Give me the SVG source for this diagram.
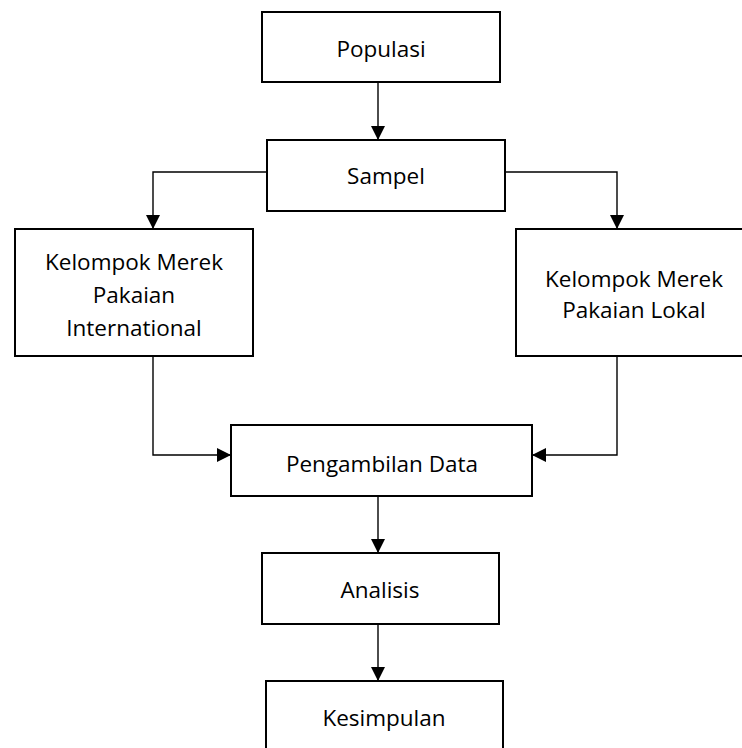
<svg xmlns="http://www.w3.org/2000/svg" width="742" height="748" viewBox="0 0 742 748">
<defs>
<marker id="ah" viewBox="0 0 14 14" refX="14" refY="7" markerWidth="14" markerHeight="14" markerUnits="userSpaceOnUse" orient="auto">
<path d="M0,0 L14,7 L0,14 Z" fill="#000"/>
</marker>
<style>
.box{fill:#fff;stroke:#000;stroke-width:2}
.lbl{font-family:"Open Sans","Noto Sans",sans-serif;font-size:22.5px;fill:#000;text-anchor:middle}
.con{fill:none;stroke:#000;stroke-width:1.4;marker-end:url(#ah)}
</style>
</defs>
<rect width="742" height="748" fill="#fff"/>
<g id="connectors">
<path class="con" d="M378,78 V140"/>
<path class="con" d="M267,172 H153 V229"/>
<path class="con" d="M505,172 H617 V229"/>
<path class="con" d="M153,356 V455 H231"/>
<path class="con" d="M617,356 V455 H532"/>
<path class="con" d="M378,491 V553"/>
<path class="con" d="M378,613 V681"/>
</g>
<g id="populasi"><rect class="box" x="262" y="12" width="238" height="70"/><text class="lbl" x="381" y="57">Populasi</text></g>
<g id="sampel"><rect class="box" x="267" y="140" width="238" height="71"/><text class="lbl" x="386" y="184">Sampel</text></g>
<g id="internasional"><rect class="box" x="15" y="229" width="238" height="127"/><text class="lbl" x="134" y="270">Kelompok Merek</text><text class="lbl" x="134" y="303">Pakaian</text><text class="lbl" x="134" y="336">International</text></g>
<g id="lokal"><rect class="box" x="516" y="229" width="230" height="127"/><text class="lbl" x="634" y="287">Kelompok Merek</text><text class="lbl" x="634" y="318">Pakaian Lokal</text></g>
<g id="pengambilan"><rect class="box" x="231" y="425" width="301" height="71"/><text class="lbl" x="382" y="472">Pengambilan Data</text></g>
<g id="analisis"><rect class="box" x="262" y="553" width="237" height="71"/><text class="lbl" x="380" y="598">Analisis</text></g>
<g id="kesimpulan"><rect class="box" x="266" y="681" width="237" height="80"/><text class="lbl" x="384" y="726">Kesimpulan</text></g>
</svg>
